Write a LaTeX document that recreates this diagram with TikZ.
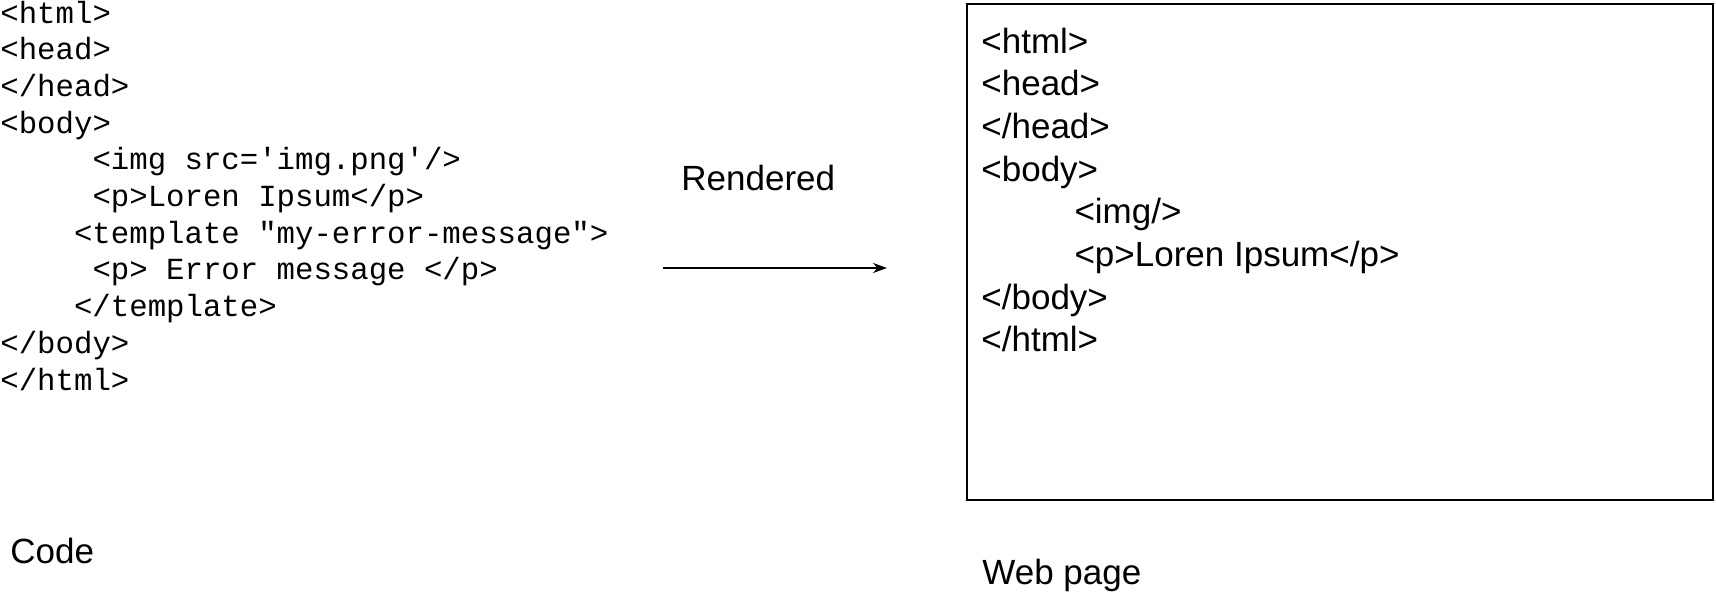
\documentclass[tikz,border=0pt]{standalone}
\usepackage{fontspec}
\setmainfont{Liberation Sans}
\newfontfamily\codefont{Liberation Mono}
\usepackage{tikz}
\usetikzlibrary{arrows.meta, positioning}
\tikzstyle{codeblock} = [inner sep=0pt, text width=420pt, align=left, anchor=base west, font=\codefont\fontsize{15.35}{18.35}\selectfont, execute at begin node={\spaceskip=0.6em\relax}]
\tikzstyle{pagetext} = [inner sep=0pt, text width=300pt, align=left, anchor=base west, font=\fontsize{17.5}{21.35}\selectfont, execute at begin node={\spaceskip=0.278em\relax}]
\tikzstyle{labeltext} = [inner sep=0pt, anchor=base west, font=\fontsize{17.5}{21}\selectfont]
\tikzstyle{pageframe} = [rectangle, draw=black, line width=1pt, minimum width=373pt, minimum height=248pt, inner sep=0pt, anchor=north west]
\tikzstyle{arrow} = [line width=1pt,->,>={Stealth[length=7pt,width=5pt]}]
\begin{document}
\begin{tikzpicture}[x=0.5pt, y=-0.5pt]
	\useasboundingbox (0,0) rectangle (1716,594);
	\node (Code) [codeblock] at (0,23) {<html>\\
		<head>\\
		</head>\\
		<body>\\
		\hspace*{3em}<img src=\textquotesingle img.png\textquotesingle/>\\
		\hspace*{3em}<p>Loren Ipsum</p>\\
		\hspace*{2.4em}<template "my-error-message">\\
		\hspace*{3em}<p> Error message </p>\\
		\hspace*{2.4em}</template>\\
		</body>\\
		</html>};
	\node (CodeLabel) [labeltext] at (10,563) {Code};
	\node (Rendered) [labeltext] at (681,190) {Rendered};
	\coordinate (ArrowStart) at (663,268);
	\coordinate (ArrowEnd) at (887,268);
	\draw [arrow] (ArrowStart) -- (ArrowEnd);
	\node (PageBox) [pageframe] at (966,3) {};
	\node (PageText) [pagetext] at (981,53) {<html>\\
		<head>\\
		</head>\\
		<body>\\
		\hspace*{2.66em}<img/>\\
		\hspace*{2.66em}<p>Loren Ipsum</p>\\
		</body>\\
		</html>};
	\node (WebPage) [labeltext] at (982,584) {Web page};
\end{tikzpicture}
\end{document}
